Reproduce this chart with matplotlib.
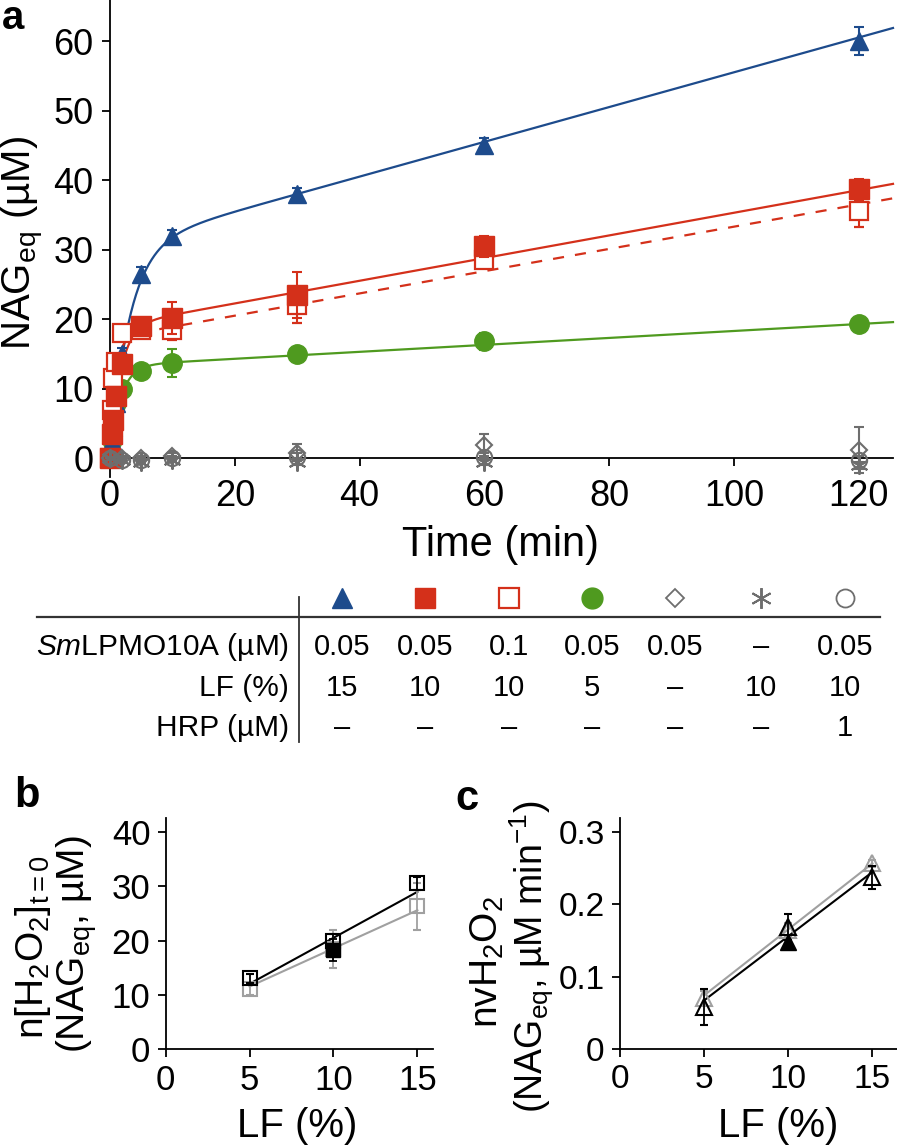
import numpy as np
import matplotlib
matplotlib.use("Agg")
import matplotlib.pyplot as plt

plt.rcParams['font.family'] = ['Liberation Sans', 'DejaVu Sans']
plt.rcParams['mathtext.fontset'] = 'custom'
plt.rcParams['mathtext.rm'] = 'Liberation Sans'
plt.rcParams['mathtext.it'] = 'Liberation Sans:italic'
plt.rcParams['mathtext.bf'] = 'Liberation Sans:bold'

# ---------------- data: panel a ----------------
time = [0, 0.25, 0.5, 1, 2, 5, 10, 30, 60, 120]
blue_y = [0, 2.5, 4.5, 8, 15, 26.5, 32, 38, 45, 60]
blue_e = [0, 0.4, 0.5, 0.6, 0.8, 1.0, 0.8, 0.8, 1.0, 2.0]
red_y = [0, 3.5, 5.5, 9, 13.5, 19, 20.2, 23.5, 30.5, 38.7]
red_e = [0, 0.5, 0.5, 0.8, 1.0, 1.0, 2.3, 3.3, 1.5, 1.5]
redo_y = [0, 7, 11.5, 13.8, 18, 18.5, 18.5, 22, 28.5, 35.5]
redo_e = [0, 0.5, 0.8, 0.8, 1.0, 1.0, 1.5, 2.5, 1.0, 2.2]
green_y = [0, 2.6, 5.5, 8, 10, 12.5, 13.7, 15, 16.8, 19.3]
green_e = [0, 0.3, 0.5, 0.5, 0.5, 0.8, 2.0, 0.8, 1.2, 0.6]

time_ctrl = [0, 2, 5, 10, 30, 60, 120]
diam_y = [0, 0, 0, 0.3, 0.8, 1.9, 1.2]
diam_e = [0, 0.3, 0.3, 0.5, 1.2, 1.6, 3.3]
ast_y = [0, -0.3, -0.5, -0.3, -0.5, -0.5, -1.0]
ast_e = [0, 0.3, 0.3, 0.3, 0.5, 0.5, 0.5]
circ_y = [0, -0.2, -0.2, 0, 0.2, 0.2, -0.2]
circ_e = [0, 0.3, 0.3, 0.3, 0.5, 0.5, 0.5]

# fitted burst + linear model parameters (amplitude, rate constant, linear rate)
fit_blue = [30.5, 0.32, 0.25]
fit_red = [19.0, 0.6, 0.163]
fit_redo = [17.3, 1.2, 0.16]
fit_green = [13.3, 0.6, 0.05]

# ---------------- data: table ----------------
table_rows = ["$\\mathit{Sm}$LPMO10A (µM)", "LF (%)", "HRP (µM)"]
table_lpmo = ["0.05", "0.05", "0.1", "0.05", "0.05", "–", "0.05"]
table_lf = ["15", "10", "10", "5", "–", "10", "10"]
table_hrp = ["–", "–", "–", "–", "–", "–", "1"]

# ---------------- data: panel b ----------------
lf = [5, 10, 15]
b_black = [13.0, 20.0, 30.6]
b_black_e = [0.8, 1.3, 1.2]
b_filled_x = [10]
b_filled = [18.3]
b_filled_e = [2.0]
b_gray = [11.0, 18.5, 26.3]
b_gray_e = [1.0, 3.5, 4.3]
b_fit_x = [5, 15]
b_fit_black = [12.0, 29.0]
b_fit_gray = [11.5, 25.6]

# ---------------- data: panel c ----------------
c_black = [0.058, 0.169, 0.238]
c_black_e = [0.025, 0.018, 0.016]
c_filled_x = [10]
c_filled = [0.148]
c_gray = [0.070, 0.165, 0.257]
c_gray_e = [0.01, 0.01, 0.005]
c_fit_black = [0.067, 0.245]
c_fit_gray = [0.074, 0.257]

BLUE = '#1d4b8c'
RED = '#d4301a'
GREEN = '#4f9a1f'
GRAY = '#6e6e6e'
LGRAY = '#a0a0a0'

W, H = 897, 1146
fig = plt.figure(figsize=(W / 100, H / 100), dpi=100)


def fx(px):
    return px / W


def fy(py):
    return 1 - py / H


def box(l, t, r, b):
    return [fx(l), fy(b), fx(r) - fx(l), fy(t) - fy(b)]


# ================= panel a =================
ax = fig.add_axes(box(110, 0, 893, 477))
ax.set_xlim(0, 125.5)
ax.set_ylim(-2.7, 65.9)
ax.spines['top'].set_visible(False)
ax.spines['right'].set_visible(False)
ax.spines['bottom'].set_position(('data', 0))
for s in ['left', 'bottom']:
    ax.spines[s].set_linewidth(1.3)
ax.set_xticks([0, 20, 40, 60, 80, 100, 120])
ax.set_yticks([0, 10, 20, 30, 40, 50, 60])
ax.tick_params(direction='out', length=6, width=1.3, labelsize=26)
ax.tick_params(axis='x', pad=9)
ax.tick_params(axis='y', pad=6)

tt = np.linspace(0, 125.5, 600)


def model(p, t):
    return p[0] * (1 - np.exp(-p[1] * t)) + p[2] * t


ax.plot(tt, model(fit_blue, tt), color=BLUE, lw=1.6, zorder=2)
ax.plot(tt, model(fit_green, tt), color=GREEN, lw=1.6, zorder=2)
ax.plot(tt, model(fit_red, tt), color=RED, lw=1.6, zorder=2)
ax.plot(tt, model(fit_redo, tt), color=RED, lw=1.6, ls=(0, (5, 5)), zorder=2)

ek = dict(capsize=3.5, elinewidth=1.5, capthick=1.5, ls='none', clip_on=False)
ax.errorbar(time, green_y, yerr=green_e, marker='o', ms=14, color=GREEN,
            mec=GREEN, zorder=3, **ek)
ax.errorbar(time, blue_y, yerr=blue_e, marker='^', ms=13, color=BLUE,
            mec=BLUE, zorder=4, **ek)
ax.errorbar(time, redo_y, yerr=redo_e, marker='s', ms=13, color=RED,
            mfc='white', mec=RED, mew=1.6, zorder=5, **ek)
ax.errorbar(time, red_y, yerr=red_e, marker='s', ms=14, color=RED,
            mfc=RED, mec=RED, zorder=6, **ek)
ax.errorbar(time_ctrl, circ_y, yerr=circ_e, marker='o', ms=11, color=GRAY,
            mfc='none', mec=GRAY, mew=1.5, zorder=7, **ek)
ax.errorbar(time_ctrl, diam_y, yerr=diam_e, marker='D', ms=8, color=GRAY,
            mfc='none', mec=GRAY, mew=1.5, zorder=7, **ek)
ax.errorbar(time_ctrl, ast_y, yerr=ast_e, marker=(6, 2, 0), ms=13, color=GRAY,
            mec=GRAY, mew=1.5, zorder=7, **ek)
for ln in ax.lines:
    ln.set_clip_on(False)

fig.text(fx(500), fy(556), "Time (min)", fontsize=30, ha='center', va='baseline')
fig.text(fx(22), fy(243), "NAG$_{\\mathrm{eq}}$ (µM)", fontsize=29, rotation=90,
         ha='center', va='center')
fig.text(fx(2), fy(29), "a", fontsize=29, fontweight='bold', ha='left', va='baseline')

# ================= table =================
tab = fig.add_axes([0, 0, 1, 1], facecolor='none')
tab.set_xlim(0, W)
tab.set_ylim(H, 0)
tab.axis('off')
col_x = [342, 425, 509, 592, 675, 761, 845]
tab.plot([37, 880], [617, 617], color='#333333', lw=1.6)
tab.plot([299, 299], [597, 742], color='#333333', lw=1.3)
sym = [dict(marker='^', ms=15, mfc=BLUE, mec=BLUE),
       dict(marker='s', ms=15, mfc=RED, mec=RED),
       dict(marker='s', ms=14, mfc='white', mec=RED, mew=1.6),
       dict(marker='o', ms=15, mfc=GREEN, mec=GREEN),
       dict(marker='D', ms=9, mfc='none', mec=GRAY, mew=1.3),
       dict(marker=(6, 2, 0), ms=15, mec=GRAY, mew=1.4),
       dict(marker='o', ms=13, mfc='none', mec=GRAY, mew=1.3)]
for x, s in zip(col_x, sym):
    tab.plot([x], [598], ls='none', **s)
row_y = [647, 688, 728]
for y, lab in zip(row_y, table_rows):
    tab.text(289, y, lab, fontsize=21.5, ha='right', va='center')
for vals, y in zip([table_lpmo, table_lf, table_hrp], row_y):
    for x, v in zip(col_x, vals):
        tab.text(x, y, v, fontsize=21, ha='center', va='center')

# ================= panel b =================
axb = fig.add_axes(box(165.7, 818.3, 433.3, 1048.7))
axb.set_xlim(0, 15.95)
axb.set_ylim(0, 42.6)
axb.spines['top'].set_visible(False)
axb.spines['right'].set_visible(False)
for s in ['left', 'bottom']:
    axb.spines[s].set_linewidth(1.3)
axb.set_xticks([0, 5, 10, 15])
axb.set_yticks([0, 10, 20, 30, 40])
axb.tick_params(direction='out', length=6, width=1.3, labelsize=25, pad=5)
axb.plot(b_fit_x, b_fit_gray, color=LGRAY, lw=1.5, zorder=2)
axb.plot(b_fit_x, b_fit_black, color='black', lw=1.5, zorder=2)
ekb = dict(capsize=3, elinewidth=1.3, capthick=1.3, ls='none')
axb.errorbar(lf, b_gray, yerr=b_gray_e, marker='s', ms=10, color=LGRAY,
             mfc='none', mec=LGRAY, mew=1.5, zorder=3, **ekb)
axb.errorbar(b_filled_x, b_filled, yerr=b_filled_e, marker='s', ms=10, color='black',
             mfc='black', mec='black', zorder=4, **ekb)
axb.errorbar(lf, b_black, yerr=b_black_e, marker='s', ms=10, color='black',
             mfc='none', mec='black', mew=1.5, zorder=5, **ekb)
fig.text(fx(297), fy(1137), "LF (%)", fontsize=29, ha='center', va='baseline')
fig.text(fx(33), fy(947), "n[H$_2$O$_2$]$_{\\mathrm{t=0}}$", fontsize=28, rotation=90,
         ha='center', va='center')
fig.text(fx(77), fy(944), "(NAG$_{\\mathrm{eq}}$, µM)", fontsize=28, rotation=90,
         ha='center', va='center')
fig.text(fx(14), fy(807), "b", fontsize=30, fontweight='bold', ha='left', va='baseline')

# ================= panel c =================
axc = fig.add_axes(box(620, 818.3, 897, 1048.7))
axc.set_xlim(0, 16.46)
axc.set_ylim(0, 0.3195)
axc.spines['top'].set_visible(False)
axc.spines['right'].set_visible(False)
for s in ['left', 'bottom']:
    axc.spines[s].set_linewidth(1.3)
axc.set_xticks([0, 5, 10, 15])
axc.set_yticks([0, 0.1, 0.2, 0.3])
axc.set_yticklabels(["0", "0.1", "0.2", "0.3"])
axc.tick_params(direction='out', length=6, width=1.3, labelsize=24, pad=5)
axc.plot(b_fit_x, c_fit_gray, color=LGRAY, lw=1.5, zorder=2)
axc.plot(b_fit_x, c_fit_black, color='black', lw=1.5, zorder=2)
axc.errorbar(lf, c_gray, yerr=c_gray_e, marker='^', ms=11, color=LGRAY,
             mfc='none', mec=LGRAY, mew=1.5, zorder=3, **ekb)
axc.errorbar(c_filled_x, c_filled, marker='^', ms=11, color='black',
             mfc='black', mec='black', zorder=4, **ekb)
axc.errorbar(lf, c_black, yerr=c_black_e, marker='^', ms=11, color='black',
             mfc='none', mec='black', mew=1.5, zorder=5, **ekb)
fig.text(fx(778), fy(1137), "LF (%)", fontsize=29, ha='center', va='baseline')
fig.text(fx(487), fy(962), "nvH$_2$O$_2$", fontsize=28, rotation=90,
         ha='center', va='center')
fig.text(fx(532), fy(957), "(NAG$_{\\mathrm{eq}}$, µM min$^{-1}$)", fontsize=27,
         rotation=90, ha='center', va='center')
fig.text(fx(455), fy(810), "c", fontsize=30, fontweight='bold', ha='left', va='baseline')

fig.savefig("out.png", dpi=100)
